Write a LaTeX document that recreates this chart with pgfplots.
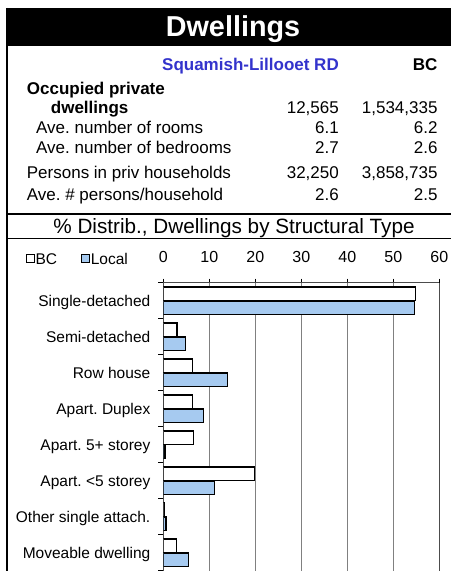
\documentclass[border=0pt]{standalone}
\usepackage{fontspec}
\setmainfont{Liberation Sans}
\usepackage{pgfplots}
\pgfplotsset{compat=1.18}
\frenchspacing

\definecolor{barblue}{RGB}{166,202,240}
\definecolor{rdblue}{RGB}{51,51,204}

\newcommand{\tbl}{\fontsize{17}{20}\selectfont}

\begin{document}
\begin{tikzpicture}[x=1pt,y=1pt]
\useasboundingbox (0pt,0pt) rectangle (451pt,571pt);

% header bar and frame
\fill[black] (6,525) rectangle (451,563);
\node[white, inner sep=0pt, anchor=base, font=\fontsize{28.8}{30}\selectfont\bfseries] at (233,534.3) {Dwellings};
\draw[line width=1.7pt] (6.8,563) -- (6.8,0);

% summary table
\begin{scope}[every node/.style={inner sep=0pt, font=\tbl}]
\node[anchor=base east, text=rdblue, font=\tbl\bfseries] at (339,500) {Squamish-Lillooet RD};
\node[anchor=base east, font=\tbl\bfseries] at (437.7,500) {BC};
\node[anchor=base west, font=\tbl\bfseries] at (26.7,476) {Occupied private};
\node[anchor=base west, font=\tbl\bfseries] at (50.7,457.7) {dwellings};
\node[anchor=base east] at (339,457.7) {12,565};
\node[anchor=base east] at (437.7,457.7) {1,534,335};
\node[anchor=base west] at (36,437.7) {Ave. number of rooms};
\node[anchor=base east] at (339,437.7) {6.1};
\node[anchor=base east] at (437.7,437.7) {6.2};
\node[anchor=base west] at (36,417.7) {Ave. number of bedrooms};
\node[anchor=base east] at (339,417.7) {2.7};
\node[anchor=base east] at (437.7,417.7) {2.6};
\node[anchor=base west] at (26.7,392.7) {Persons in priv households};
\node[anchor=base east] at (339,392.7) {32,250};
\node[anchor=base east] at (437.7,392.7) {3,858,735};
\node[anchor=base west] at (26.7,370) {Ave. \# persons/household};
\node[anchor=base east] at (339,370) {2.6};
\node[anchor=base east] at (437.7,370) {2.5};
\end{scope}

\draw[line width=1.7pt] (6,357) -- (451,357);
\node[inner sep=0pt, anchor=base, font=\fontsize{20.7}{23}\selectfont] at (234,337.7) {\% Distrib., Dwellings by Structural Type};
\draw[line width=1.2pt] (6,332.5) -- (451,332.5);

\begin{axis}[
    at={(163.3pt,0.3pt)}, anchor=south west,
    scale only axis, width=276pt, height=288pt,
    xbar, bar width=13.5pt,
    xmin=0, xmax=60, ymin=-0.5, ymax=7.5,
    axis x line*=top,
    axis line style={black!70, line width=1.2pt},
    xtick={0,10,...,60},
    ytick={0,...,7},
    ytick pos=left,
    yticklabels={Moveable dwelling,Other single attach.,Apart. <5 storey,Apart. 5+ storey,Apart. Duplex,Row house,Semi-detached,Single-detached},
    minor ytick={-0.5,0.5,...,7.5},
    tick align=outside,
    major tick length=4pt, minor tick length=5pt,
    tick style={black, line width=1pt},
    major y tick style={draw=none},
    minor y tick style={black, line width=1pt},
    xmajorgrids, major grid style={black!50, line width=1.2pt},
    /pgf/number format/assume math mode=true,
    xticklabel style={font=\fontsize{16}{18}\selectfont, anchor=base, inner sep=0pt, yshift=16pt},
    yticklabel style={font=\fontsize{15.5}{17}\selectfont, anchor=base east, inner sep=0pt, xshift=-8.8pt, yshift=-5.5pt},
    legend style={at={(axis description cs:-0.5,1.0788)}, anchor=west, draw=none, fill=none,
        legend columns=2, inner sep=0pt, font=\fontsize{15.5}{17}\selectfont,
        nodes={inner sep=0.8pt},
        /tikz/every even column/.append style={column sep=23pt}},
]
\addplot[draw=black, fill=white, line width=1.3pt, bar shift=7pt,
    legend image code/.code={\draw[black, fill=white, line width=1.2pt] (0pt,-2.5pt) rectangle (8pt,5.5pt);}]
    coordinates {(54.9,7) (3.0,6) (6.3,5) (6.3,4) (6.5,3) (19.8,2) (0.2,1) (2.8,0)};
\addplot[draw=black, fill=barblue, line width=1.3pt, bar shift=-7pt,
    legend image code/.code={\draw[black, fill=barblue, line width=1.2pt] (0pt,-2.5pt) rectangle (8pt,5.5pt);}]
    coordinates {(54.6,7) (4.8,6) (14.0,5) (8.7,4) (0.4,3) (11.2,2) (0.6,1) (5.5,0)};
\legend{BC,Local}
\end{axis}
\end{tikzpicture}
\end{document}
